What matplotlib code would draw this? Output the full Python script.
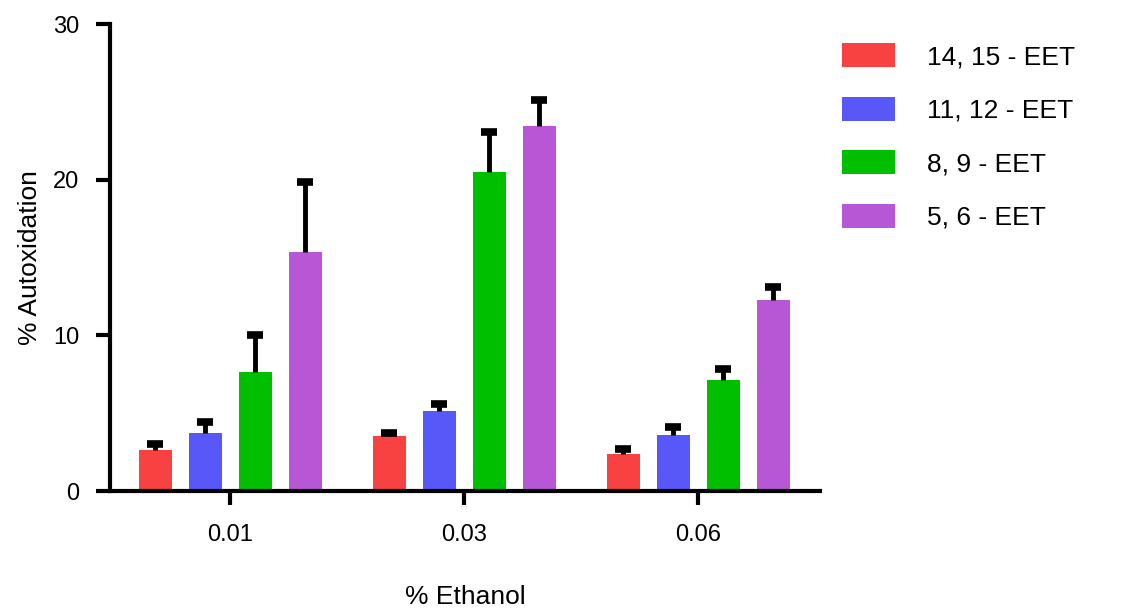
import numpy as np
import matplotlib
matplotlib.use("Agg")
from matplotlib import pyplot as plt

plt.rcParams['font.family'] = ['Liberation Sans', 'DejaVu Sans']

# data
ethanol = ["0.01", "0.03", "0.06"]
series = ["14, 15 - EET", "11, 12 - EET", "8, 9 - EET", "5, 6 - EET"]
eet_14_15 = [2.62, 3.55, 2.41]
eet_11_12 = [3.70, 5.14, 3.63]
eet_8_9 = [7.63, 20.47, 7.14]
eet_5_6 = [15.38, 23.44, 12.24]
err_14_15 = [0.43, 0.19, 0.28]
err_11_12 = [0.75, 0.43, 0.50]
err_8_9 = [2.37, 2.58, 0.71]
err_5_6 = [4.45, 1.70, 0.88]

colors = ['#F84242', '#5858F9', '#00BE00', '#B857D6']

means = [eet_14_15, eet_11_12, eet_8_9, eet_5_6]
errs = [err_14_15, err_11_12, err_8_9, err_5_6]

fig = plt.figure(figsize=(11.38, 6.08), dpi=100)
ax = fig.add_axes([0.0967, 0.1924, 0.6239, 0.7681])

x = np.arange(len(ethanol))
pitch = 0.2137
width = 0.141

for i in range(4):
    pos = x + (i - 1.5) * pitch
    ax.bar(pos, means[i], width, color=colors[i], label=series[i], zorder=2)
    eb = ax.errorbar(pos, means[i], yerr=[np.zeros(3), errs[i]], fmt='none',
                     ecolor='black', elinewidth=3.5, capsize=6, capthick=5.5,
                     zorder=3)
    # only the upper cap is shown
    eb[1][0].set_visible(False)

ax.set_xlim(-0.513, 2.521)
ax.set_ylim(0, 30)
ax.set_yticks([0, 10, 20, 30])
ax.set_xticks(x)
ax.set_xticklabels(ethanol)

for s in ['top', 'right']:
    ax.spines[s].set_visible(False)
for s in ['left', 'bottom']:
    ax.spines[s].set_linewidth(3)

ax.tick_params(axis='y', length=10, width=3, pad=12, labelsize=17)
ax.tick_params(axis='x', length=10, width=3, pad=14, labelsize=17)

ax.set_ylabel("% Autoxidation", fontsize=19, labelpad=8)
ax.set_xlabel("% Ethanol", fontsize=19, labelpad=28)

fig.legend(loc='upper left', bbox_to_anchor=(0.731, 0.946), frameon=False,
           fontsize=19, handlelength=2.0, handleheight=1.0,
           handletextpad=1.2, labelspacing=1.05, borderaxespad=0)

fig.savefig("out.png", dpi=100)
